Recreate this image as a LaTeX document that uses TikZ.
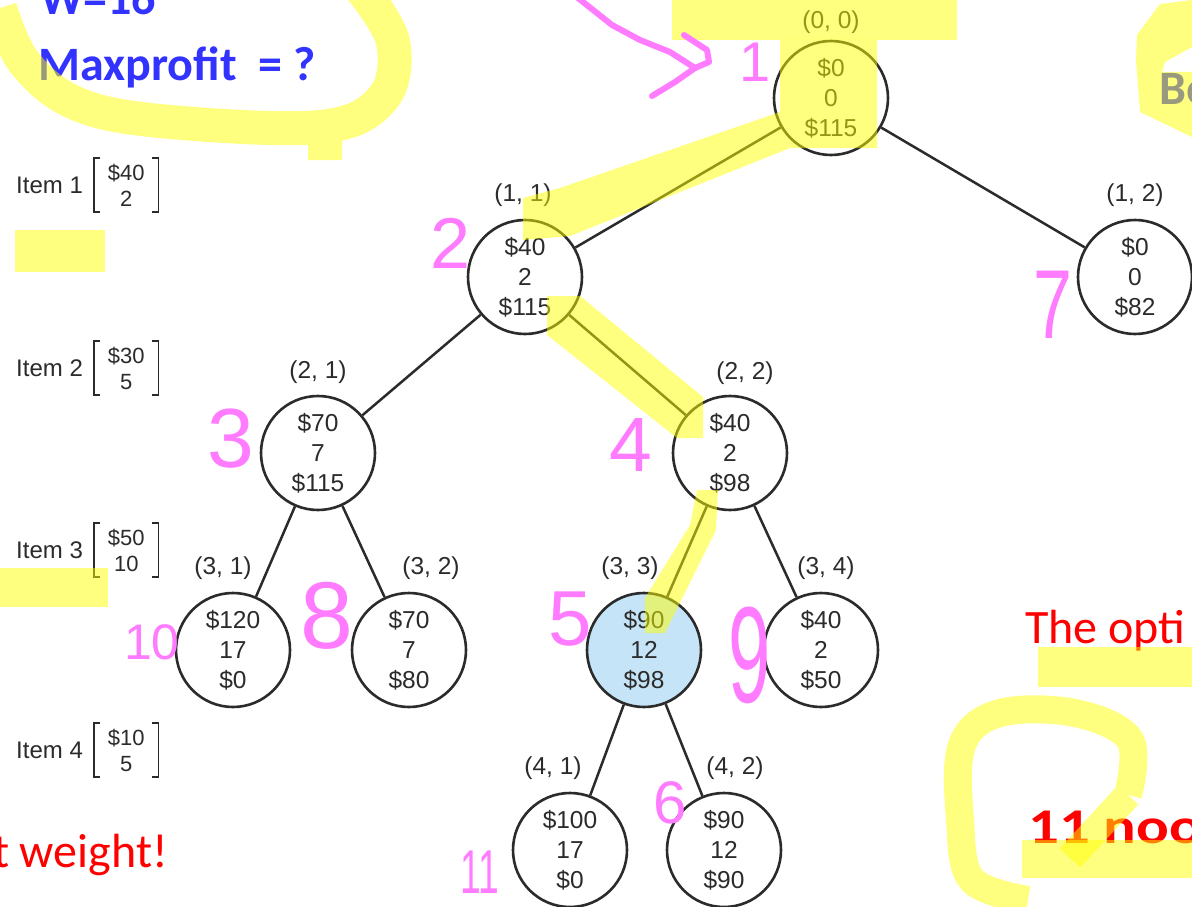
\documentclass[tikz,border=0pt]{standalone}
\usepackage{fontspec}
\usepackage{graphicx}
\setmainfont{Liberation Sans}
\newfontfamily\califont{Carlito}
\definecolor{KnapInk}{HTML}{2B2B2B}
\definecolor{KnapBlue}{HTML}{C6E4F7}
\definecolor{MarkPink}{HTML}{FF7BFF}
\definecolor{MarkYellow}{HTML}{FFFF00}
\definecolor{NoteBlue}{HTML}{3333FF}
\definecolor{NoteRed}{HTML}{FF0000}
\usetikzlibrary{positioning}

\tikzset{
  bbnode/.style={circle, draw=KnapInk, line width=2.6pt, minimum size=114pt,
    inner sep=0pt, align=center, text=KnapInk, font=\fontsize{24.5}{30}\selectfont},
  bblabel/.style={text=KnapInk, inner sep=0pt, font=\fontsize{24.5}{30}\selectfont},
  bbedge/.style={draw=KnapInk, line width=2.5pt},
  itemname/.style={text=KnapInk, inner sep=0pt, font=\fontsize{24}{28}\selectfont},
  itemvec/.style={align=center, minimum width=64pt, minimum height=54pt,
    inner sep=0pt, text=KnapInk, font=\fontsize{22}{26}\selectfont},
  hilite/.style={MarkYellow, opacity=0.5},
  pinkmark/.style={MarkPink, line width=6pt, line join=round, line cap=round},
  pinknum/.style={text=MarkPink, inner sep=0pt},
  note/.style={inner sep=0pt, anchor=base west},
}

\begin{document}
\begin{tikzpicture}[x=1pt, y=-1pt]
  \useasboundingbox (0,0) rectangle (1192,907);
  \clip (0,0) rectangle (1192,907);
  \fill[white] (0,0) rectangle (1192,907);

  % branch-and-bound tree
  \node[bbnode] (n00) at (831,98)  {\$0\\0\\\$115};
  \node[bbnode] (n11) at (525,277) {\$40\\2\\\$115};
  \node[bbnode] (n12) at (1135,277) {\$0\\0\\\$82};
  \node[bbnode] (n21) at (318,453) {\$70\\7\\\$115};
  \node[bbnode] (n22) at (730,453) {\$40\\2\\\$98};
  \node[bbnode] (n31) at (233,650) {\$120\\17\\\$0};
  \node[bbnode] (n32) at (409,650) {\$70\\7\\\$80};
  \node[bbnode, fill=KnapBlue] (n33) at (644,650) {\$90\\12\\\$98};
  \node[bbnode] (n34) at (821,650) {\$40\\2\\\$50};
  \node[bbnode] (n41) at (570,850) {\$100\\17\\\$0};
  \node[bbnode] (n42) at (724,850) {\$90\\12\\\$90};

  \foreach \a/\b in {n00/n11, n00/n12, n11/n21, n11/n22, n21/n31,
                     n21/n32, n22/n33, n22/n34, n33/n41, n33/n42}
    \draw[bbedge] (\a) -- (\b);

  % level/position labels
  \node[bblabel] (l00) at (831,22)  {(0, 0)};
  \node[bblabel] (l11) at (523,195) {(1, 1)};
  \node[bblabel] (l12) at (1135,195) {(1, 2)};
  \node[bblabel] (l21) at (318,372) {(2, 1)};
  \node[bblabel] (l22) at (745,373) {(2, 2)};
  \node[bblabel] (l31) at (223,568) {(3, 1)};
  \node[bblabel] (l32) at (431,568) {(3, 2)};
  \node[bblabel] (l33) at (630,568) {(3, 3)};
  \node[bblabel] (l34) at (826,568) {(3, 4)};
  \node[bblabel] (l41) at (553,768) {(4, 1)};
  \node[bblabel] (l42) at (735,768) {(4, 2)};

  % items
  \foreach \i/\y/\p/\w in {1/185/40/2, 2/368/30/5, 3/550/50/10, 4/750/10/5} {
    \node[itemname, anchor=west] (item\i) at (16,\y) {Item \i};
    \node[itemvec, right=11pt of item\i] (vec\i) {\$\p\\\w};
    \draw[KnapInk, line width=1.6pt]
      ([xshift=6pt]vec\i.north west) -- (vec\i.north west)
      -- (vec\i.south west) -- ([xshift=6pt]vec\i.south west);
    \draw[KnapInk, line width=1.6pt]
      ([xshift=-6pt]vec\i.north east) -- (vec\i.north east)
      -- (vec\i.south east) -- ([xshift=-6pt]vec\i.south east);
  }

  % slide notes
  \node[note, text=NoteBlue, font=\califont\bfseries\fontsize{48}{48}\selectfont]
    (wcap) at (40,15) {W=16};
  \node[note, text=NoteBlue, font=\califont\bfseries\fontsize{48}{48}\selectfont]
    (maxp) at (38,81) {Maxprofit\ \ = ?};
  \node[note, text=NoteBlue, font=\califont\bfseries\fontsize{48}{48}\selectfont]
    (bound) at (1159,105) {Bo};
  \node[note, text=NoteRed, font=\califont\fontsize{48}{48}\selectfont]
    (optim) at (1025,643) {The opti};
  \node[note, text=NoteRed, font=\califont\bfseries\fontsize{50}{50}\selectfont]
    (count) at (1028,843) {\scalebox{1.22}[1]{11 noo}};
  \node[inner sep=0pt, anchor=base east, text=NoteRed,
    font=\califont\fontsize{48}{48}\selectfont] (weight) at (168,867) {t weight!};

  % highlighter
  \fill[hilite] (672,0) rectangle (957,40);
  \fill[hilite] (780,40) -- (877,40) -- (877,148) -- (790,148) -- (570,236)
    -- (523,240) -- (523,198) -- (560,188) -- (780,112) -- cycle;
  \fill[hilite] (547,296) -- (580,296) -- (703,397) -- (703,438) -- (677,438)
    -- (547,335) -- cycle;
  \fill[hilite] (697,490) -- (718,490) -- (716,530) -- (665,633) -- (645,633)
    -- (645,598) -- (690,525) -- cycle;
  \draw[hilite, line width=34pt, line join=round]
    plot[smooth, tension=0.6] coordinates {(0,8) (24,62) (75,103) (160,121)
      (320,127) (383,98) (393,42) (362,-10)}
    (325,125) -- (325,160);
  \fill[hilite] (15,230) rectangle (105,272);
  \fill[hilite] (0,568) rectangle (108,607);
  \fill[hilite] (1137,35) -- (1160,4) -- (1192,0) -- (1192,47) -- (1165,62)
    -- (1162,72) -- (1192,72) -- (1192,137) -- (1140,112) -- (1136,60) -- cycle;
  \fill[hilite] (1038,647) rectangle (1192,687);
  \draw[hilite, line width=28pt, line join=round]
    plot[smooth, tension=0.6] coordinates {(1128,795) (1130,740) (1075,713)
      (1000,713) (962,745) (960,820) (972,880) (1028,900)}
    (1128,795) -- (1070,858);
  \fill[hilite] (1022,840) rectangle (1192,878);

  % pen marks (visiting order)
  \draw[pinkmark] (578,-2) -- (612,25) -- (640,40) -- (670,52) -- (695,68)
    -- (709,62) -- (707,50) -- (684,35);
  \draw[pinkmark] (695,68) -- (675,82) -- (652,96);
  \node[pinknum, font=\fontsize{56}{56}\selectfont] (o1) at (755,62) {1};
  \node[pinknum, font=\fontsize{72}{72}\selectfont] (o2) at (451,243) {2};
  \node[pinknum, font=\fontsize{84}{84}\selectfont] (o3) at (231,439) {3};
  \node[pinknum, font=\fontsize{77}{77}\selectfont] (o4) at (631,445) {4};
  \node[pinknum, font=\fontsize{78}{78}\selectfont] (o5) at (570,619) {5};
  \node[pinknum, font=\fontsize{60}{60}\selectfont] (o6) at (670,803) {6};
  \node[pinknum, font=\fontsize{70}{70}\selectfont] (o7) at (1053,305)
    {\scalebox{1}[1.4]{7}};
  \node[pinknum, font=\fontsize{95}{95}\selectfont] (o8) at (327,616) {8};
  \node[pinknum, font=\fontsize{76}{76}\selectfont] (o9) at (750,655)
    {\scalebox{1}[1.8]{9}};
  \node[pinknum, font=\fontsize{50}{50}\selectfont] (o10) at (152,642) {10};
  \node[pinknum, font=\fontsize{62}{62}\selectfont] (o11) at (480,872)
    {\scalebox{0.6}[1]{11}};
\end{tikzpicture}
\end{document}
